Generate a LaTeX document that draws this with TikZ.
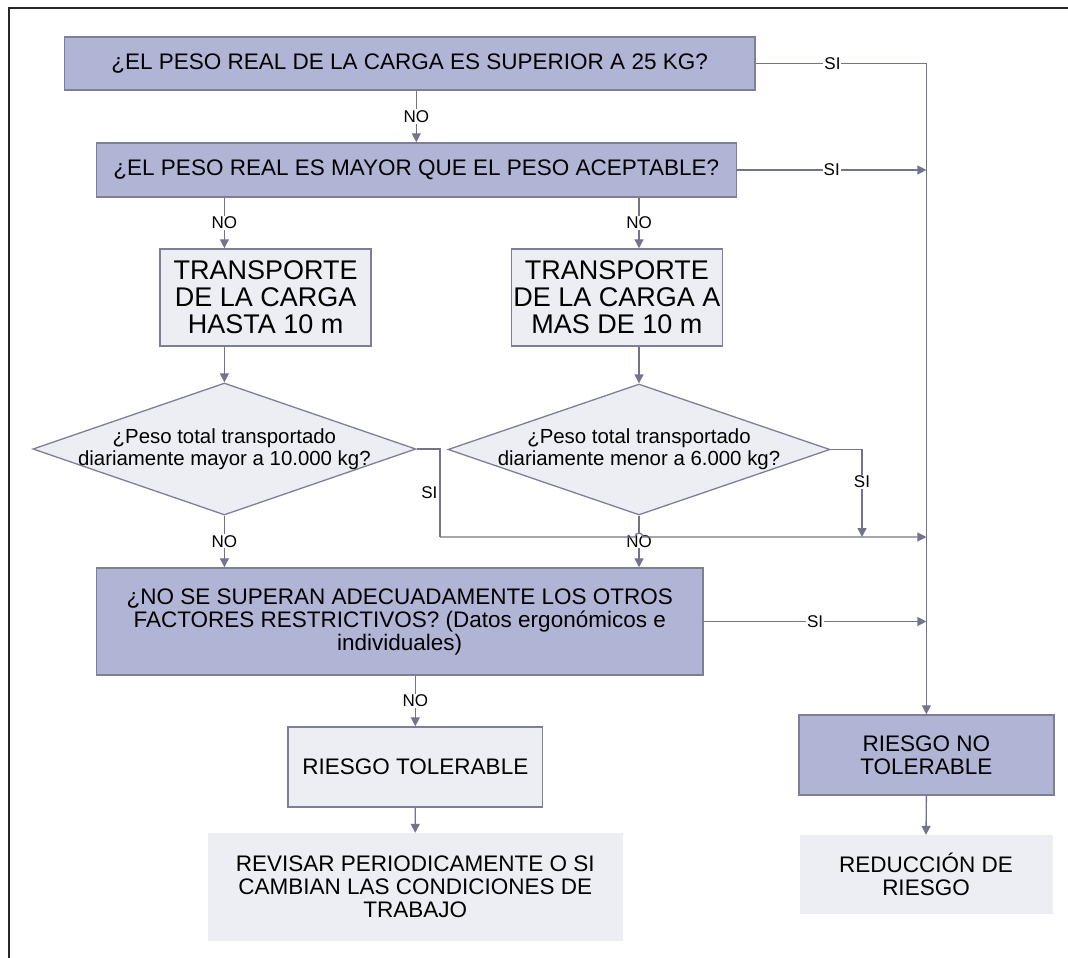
\documentclass[tikz,border=0pt]{standalone}
\usepackage{fontspec}
\setmainfont{Liberation Sans}
\usetikzlibrary{shapes.geometric,arrows.meta,calc}
\definecolor{boxblue}{HTML}{B1B5D5}
\definecolor{boxlight}{HTML}{EDEEF4}
\definecolor{edge}{HTML}{7E7F96}
\definecolor{wire}{HTML}{737389}
\begin{document}
\begin{tikzpicture}[x=1pt,y=-1pt,
  base/.style={rectangle, inner sep=0pt, align=center, font=\fontsize{22.5}{23}\selectfont},
  question/.style={base, fill=boxblue, draw=edge, line width=1.5pt},
  stage/.style={base, fill=boxlight, draw=edge, line width=1.5pt},
  outcome/.style={base, fill=boxlight},
  decision/.style={diamond, fill=boxlight, draw=edge, line width=1.3pt, inner sep=0pt},
  wirestyle/.style={draw=wire, line width=1.3pt},
  arr/.style={wirestyle, -{Triangle[length=9pt,width=9pt]}},
  tag/.style={font=\fontsize{17}{18}\selectfont, fill=white, inner sep=1pt},
  sidetag/.style={font=\fontsize{17}{18}\selectfont, inner sep=2pt}
]
\useasboundingbox (0,0) rectangle (1068,958);

% outer frame
\draw[line width=2pt, black!85] (9,958) -- (9,8) -- (1068,8);

% questions and stages
\node[question, minimum width=690.4pt, minimum height=53pt] (b1) at (409.6,63.5)
  {¿EL PESO REAL DE LA CARGA ES SUPERIOR A 25 KG?};
\node[question, minimum width=640pt, minimum height=54pt] (b2) at (416.3,170)
  {¿EL PESO REAL ES MAYOR QUE EL PESO ACEPTABLE?};
\node[stage, minimum width=211pt, minimum height=97pt, font=\fontsize{27}{27}\selectfont] (t1) at (265.6,297.5)
  {TRANSPORTE\\DE LA CARGA\\HASTA 10 m};
\node[stage, minimum width=211pt, minimum height=97pt, font=\fontsize{27}{27}\selectfont] (t2) at (616.8,297.5)
  {TRANSPORTE\\DE LA CARGA A\\MAS DE 10 m};

% decisions
\node[decision, minimum width=383pt, minimum height=132pt] (d1) at (224.4,449) {};
\node[align=center, font=\fontsize{20.4}{22}\selectfont, inner sep=0pt] (d1t) at (d1)
  {¿Peso total transportado\\diariamente mayor a 10.000 kg?};
\node[decision, minimum width=382pt, minimum height=131pt] (d2) at (639,449.5) {};
\node[align=center, font=\fontsize{20.4}{22}\selectfont, inner sep=0pt] (d2t) at (d2)
  {¿Peso total transportado\\diariamente menor a 6.000 kg?};

\node[question, minimum width=606.6pt, minimum height=107pt] (b3) at (399.7,621.5)
  {¿NO SE SUPERAN ADECUADAMENTE LOS OTROS\\FACTORES RESTRICTIVOS? (Datos ergonómicos e\\individuales)};

% results
\node[stage, minimum width=254.7pt, minimum height=80pt] (rt) at (415.3,767)
  {RIESGO TOLERABLE};
\node[outcome, minimum width=415pt, minimum height=108pt] (rev) at (415.2,887)
  {REVISAR PERIODICAMENTE O SI\\CAMBIAN LAS CONDICIONES DE\\TRABAJO};
\node[question, minimum width=255.3pt, minimum height=80pt] (rnt) at (926.4,755)
  {RIESGO NO\\TOLERABLE};
\node[outcome, minimum width=253pt, minimum height=79pt] (red) at (926,874.5)
  {REDUCCIÓN DE\\RIESGO};

% routing points
\coordinate (j1) at (440,449);
\coordinate (bus) at (440,537);
\coordinate (j2) at (862,449.5);

% NO branches
\draw[arr] (b2.north |- b1.south) -- node[tag]{NO} (b2.north);
\draw[arr] (d1.north |- b2.south) -- node[tag]{NO} (d1.north |- t1.north);
\draw[arr] (d2.north |- b2.south) -- node[tag]{NO} (d2.north |- t2.north);
\draw[arr] (d1.north |- t1.south) -- (d1.north);
\draw[arr] (d2.north |- t2.south) -- (d2.north);
\draw[arr] (d1.south) -- node[tag]{NO} (d1.south |- b3.north);
\draw[arr] (d2.south) -- node[tag]{NO} (d2.south |- b3.north);
\draw[arr] (rt.north |- b3.south) -- node[tag]{NO} (rt.north);
\draw[arr] (rt.south) -- (rev.north);
\draw[arr] (rnt.south) -- (red.north);

% SI branches
\draw[arr] (b1.east) -- node[tag, pos=0.45]{SI} (rnt.north |- b1.east) -- (rnt.north);
\draw[arr] (b2.east) -- node[tag]{SI} (rnt.north |- b2.east);
\draw[arr] (b3.east) -- node[tag]{SI} (rnt.north |- b3.east);
\draw[wirestyle] (d1.east) -- (j1) -- node[sidetag, left]{SI} (bus);
\draw[arr] (bus) -- ($(d2.south |- bus)+(-4,0)$) arc[start angle=180, end angle=360, radius=4]
  -- (rnt.north |- bus);
\draw[arr] (d2.east) -- (j2) -- node[tag, pos=0.37]{SI} (j2 |- bus);
\end{tikzpicture}
\end{document}
